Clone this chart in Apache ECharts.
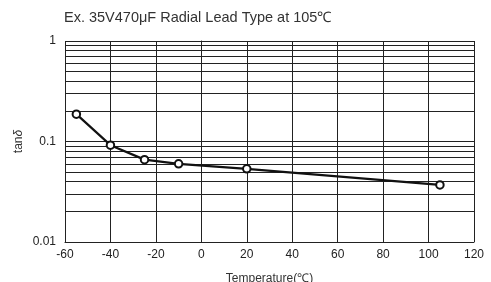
<!DOCTYPE html>
<html><head><meta charset="utf-8">
<script src="https://cdn.jsdelivr.net/npm/echarts@6/dist/echarts.min.js"></script>
<style>html,body{margin:0;padding:0;background:#fff}#c{width:491px;height:282px}</style>
</head><body><div id="c"></div>
<script>
var temperatures = [-55, -40, -25, -10, 20, 105];
var tanDelta = [0.187, 0.092, 0.066, 0.060, 0.0535, 0.037];
var minorGrid = [0.02,0.03,0.04,0.05,0.06,0.07,0.08,0.09,0.2,0.3,0.4,0.5,0.6,0.7,0.8,0.9];

var chart = echarts.init(document.getElementById('c'), null, {renderer:'canvas'});
var ink = '#222';
var font = 'Liberation Sans, Arial, Helvetica';
chart.setOption({
  animation:false,
  title:{text:'Ex. 35V470μF Radial Lead Type at 105℃', left:59, top:5,
    textStyle:{fontFamily:font, fontSize:14.5, fontWeight:'normal', color:'#333'}},
  grid:{left:65, right:17, top:41, bottom:40, containLabel:false, outerBoundsMode:'none'},
  xAxis:{type:'value', min:-60, max:120, interval:20,
    name:'Temperature(℃)', nameLocation:'middle', nameGap:31, nameMoveOverlap:false,
    nameTextStyle:{fontFamily:font, fontSize:12, color:'#333'},
    axisLine:{show:true, lineStyle:{color:ink, width:1}}, axisTick:{show:false},
    axisLabel:{fontFamily:font, fontSize:12, color:ink, margin:7},
    splitLine:{show:true, lineStyle:{color:ink, width:1}}},
  yAxis:{type:'log', logBase:10, min:0.01, max:1,
    name:'{a|tan}{b|δ}', nameLocation:'middle', nameGap:40, nameRotate:90, nameMoveOverlap:false,
    nameTextStyle:{fontFamily:font, fontSize:12, color:'#333',
      rich:{a:{fontFamily:font, fontSize:12, color:'#333'},
            b:{fontFamily:font, fontSize:12, color:'#333', fontStyle:'italic'}}},
    axisLine:{show:true, lineStyle:{color:ink, width:1}}, axisTick:{show:false},
    axisLabel:{fontFamily:font, fontSize:12, color:ink, margin:9,
      formatter:function(v){ var k = Math.round(Math.log10(v)); return k===-2?'0.01':(k===-1?'0.1':'1'); }},
    splitLine:{show:true, lineStyle:{color:ink, width:1}}},
  series:[{type:'line', data:temperatures.map(function(t,i){return [t,tanDelta[i]];}),
    lineStyle:{color:'#111', width:2.2}, symbol:'circle', symbolSize:7.5,
    itemStyle:{color:'#fff', borderColor:'#111', borderWidth:2}, z:5,
    markLine:{silent:true, symbol:['none','none'], label:{show:false},
      lineStyle:{color:ink, width:1, type:'solid'}, animation:false,
      data:minorGrid.map(function(v){return {yAxis:v};})}}]
});
</script></body></html>
